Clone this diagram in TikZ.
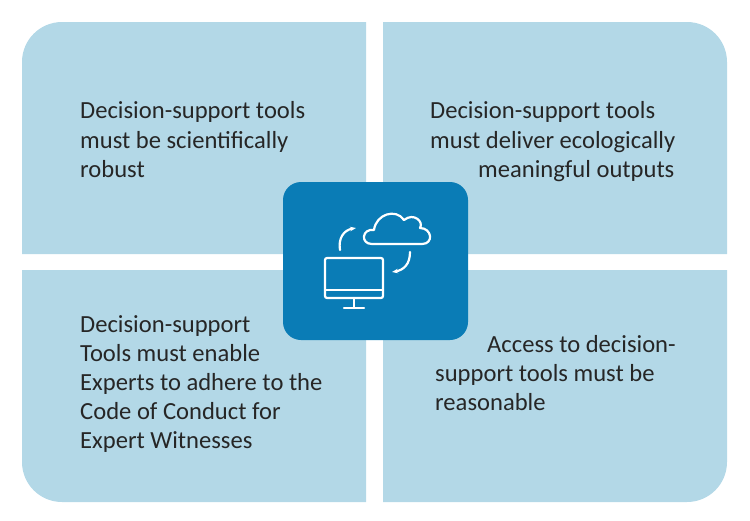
\documentclass[tikz,border=0pt]{standalone}
\usepackage{fontspec}
\setmainfont{Carlito}
\usetikzlibrary{arrows.meta}
\begin{document}
\begin{tikzpicture}[x=1pt,y=-1pt,
  txt/.style={anchor=base west,inner sep=0,font=\fontsize{24.6}{28}\selectfont,text=black!85},
  ic/.style={draw=white,line width=2.2pt,line cap=round,line join=round}]
\definecolor{lb}{HTML}{B3D8E7}
\definecolor{db}{HTML}{0A7CB6}
\useasboundingbox (0,0) rectangle (750,520);
\fill[lb] (22,254) [rounded corners=40pt] -- (22,22) [sharp corners] -- (366,22) -- (366,254) -- cycle;
\fill[lb] (383,22) [rounded corners=40pt] -- (727,22) [sharp corners] -- (727,254) -- (383,254) -- cycle;
\fill[lb] (366,270) -- (22,270) [rounded corners=40pt] -- (22,502) [sharp corners] -- (366,502) -- cycle;
\fill[lb] (383,270) -- (727,270) [rounded corners=40pt] -- (727,502) [sharp corners] -- (383,502) -- cycle;
\node[fill=db,rounded corners=18pt,minimum width=185pt,minimum height=158pt,inner sep=0] (c) at (375.5,261) {};
% text
\node[txt] (a1) at (80,118) {Decision-support tools};
\node[txt] (a2) at (80,148) {must be scientifically};
\node[txt] (a3) at (80,177) {robust};
\node[txt] (b1) at (430,118) {Decision-support tools};
\node[txt] (b2) at (430,148) {must deliver ecologically};
\node[txt] (b3) at (478,177) {meaningful outputs};
\node[txt] (d1) at (80,332) {Decision-support};
\node[txt] (d2) at (80,361) {Tools must enable};
\node[txt] (d3) at (80,390) {Experts to adhere to the};
\node[txt] (d4) at (80,419) {Code of Conduct for};
\node[txt] (d5) at (80,448) {Expert Witnesses};
\node[txt] (e1) at (487,352) {Access to decision-};
\node[txt] (e2) at (435,381) {support tools must be};
\node[txt] (e3) at (435,410) {reasonable};
% icon
\draw[ic,rounded corners=2pt] (325,258) rectangle (383,298);
\draw[ic] (325,290) -- (383,290);
\draw[ic] (354,298) -- (354,308);
\draw[ic] (344,308) -- (364,308);
\draw[ic] (372,244) .. controls (360,244) and (362,228) .. (374,230)
  .. controls (376,214) and (396,208) .. (404,220)
  .. controls (414,212) and (424,222) .. (420,228)
  .. controls (432,228) and (434,244) .. (422,244) -- cycle;
\draw[ic,-{Stealth[length=6pt]}] (340,250) .. controls (338,238) and (344,230) .. (356,228);
\draw[ic,-{Stealth[length=6pt]}] (410,252) .. controls (410,264) and (404,270) .. (392,272);
\end{tikzpicture}
\end{document}
